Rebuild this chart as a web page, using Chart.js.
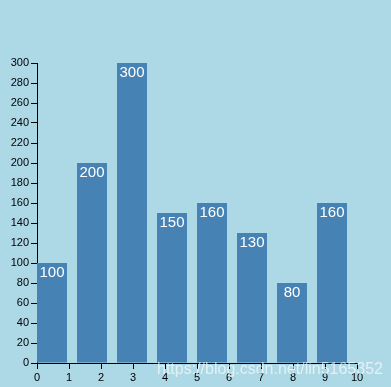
<!DOCTYPE html>
<html lang="en">
<head>
    <meta charset="UTF-8">
    <title>Bar Chart</title>
    <script src="https://cdn.jsdelivr.net/npm/chart.js"></script>
    <style>
        body { margin: 0; background: #add8e6; }
        #wrap { width: 391px; height: 387px; }
    </style>
</head>
<body>
    <div id="wrap"><canvas id="barChart" width="391" height="387"></canvas></div>

    <script>
        // data
        const barValues = [100, 200, 300, 150, 160, 130, 80, 160];
        const xTickMin = 0, xTickMax = 10;   // the axis under the bars runs 0..10
        const yTickMin = 0, yTickMax = 300, yTickStep = 20;
        const watermark = "https://blog.csdn.net/lin5165352";

        // bars sit at the left of each band (band width 1, bar 0.75 of it)
        const barPoints = barValues.map((v, i) => ({ x: i + 0.375, y: v }));

        const labelFont = "Liberation Sans, Arial, sans-serif";

        // value text centred at the top of each bar + watermark
        const barTextPlugin = {
            id: "barText",
            afterDatasetsDraw(chart) {
                const ctx = chart.ctx;
                const meta = chart.getDatasetMeta(0);
                ctx.save();
                ctx.fillStyle = "#ffffff";
                ctx.font = "15px " + labelFont;
                ctx.textAlign = "center";
                ctx.textBaseline = "alphabetic";
                meta.data.forEach((bar, i) => {
                    ctx.fillText(String(barValues[i]), bar.x, bar.y + 14);
                });
                ctx.restore();
            },
            afterDraw(chart) {
                const ctx = chart.ctx;
                ctx.save();
                ctx.font = "16px " + labelFont;
                ctx.fillStyle = "rgba(255,255,255,0.65)";
                ctx.textAlign = "left";
                ctx.textBaseline = "alphabetic";
                ctx.fillText(watermark, 157, 374);
                ctx.restore();
            }
        };

        const ctx = document.getElementById("barChart").getContext("2d");
        new Chart(ctx, {
            type: "bar",
            data: {
                datasets: [{
                    data: barPoints,
                    xAxisID: "xBand",
                    yAxisID: "y",
                    backgroundColor: "#4682b4",
                    borderWidth: 0,
                    barPercentage: 0.75,
                    categoryPercentage: 1
                }]
            },
            options: {
                responsive: false,
                animation: false,
                layout: { padding: { top: 63, right: 34, left: 0, bottom: 0 } },
                plugins: {
                    legend: { display: false },
                    tooltip: { enabled: false }
                },
                scales: {
                    xBand: {
                        type: "linear",
                        display: false,
                        offset: false,
                        grid: { offset: false },
                        min: 0,
                        max: barValues.length
                    },
                    x: {
                        type: "linear",
                        position: "bottom",
                        offset: false,
                        min: xTickMin,
                        max: xTickMax,
                        afterFit(scale) { scale.height = 24; },
                        grid: {
                            offset: false,
                            drawOnChartArea: false,
                            drawTicks: true,
                            tickLength: 6,
                            color: "#000000"
                        },
                        border: { color: "#000000", width: 1 },
                        ticks: {
                            stepSize: 1,
                            padding: 2,
                            maxRotation: 0,
                            color: "#000000",
                            font: { family: labelFont, size: 11 }
                        }
                    },
                    y: {
                        type: "linear",
                        min: yTickMin,
                        max: yTickMax,
                        afterFit(scale) { scale.width = 37; },
                        grid: {
                            drawOnChartArea: false,
                            drawTicks: true,
                            tickLength: 6,
                            color: "#000000"
                        },
                        border: { color: "#000000", width: 1 },
                        ticks: {
                            stepSize: yTickStep,
                            padding: 2,
                            color: "#000000",
                            font: { family: labelFont, size: 11 }
                        }
                    }
                }
            },
            plugins: [barTextPlugin]
        });
    </script>
</body>
</html>
